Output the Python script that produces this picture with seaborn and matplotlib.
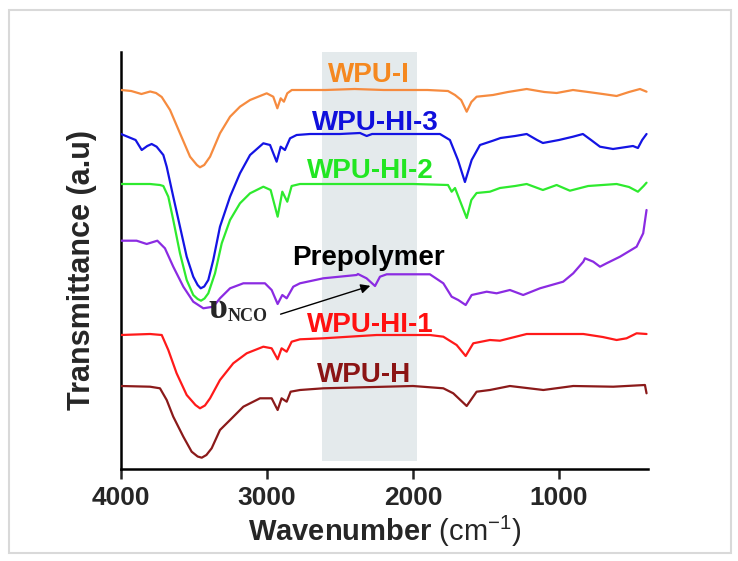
import matplotlib
matplotlib.use("Agg")
import matplotlib.pyplot as plt
import seaborn as sns
import pandas as pd
from matplotlib.patches import Rectangle

# FTIR spectra, wavenumber (cm-1) and offset transmittance (a.u.)
wpu_i_x = [4000, 3930, 3860, 3800, 3760, 3721, 3664, 3596, 3527, 3480, 3459, 3430, 3390, 3322,
           3253, 3185, 3116, 3002, 2957, 2929, 2906, 2884, 2861, 2830, 2600, 2400, 2200, 1900,
           1760, 1712, 1670, 1632, 1600, 1564, 1452, 1350, 1221, 1100, 1016, 904, 800, 700,
           605, 520, 445, 400]
wpu_i_y = [379, 378, 375, 377.5, 376, 372, 359, 335.7, 312.3, 304, 301.7, 304, 312.3, 335.7,
           352.3, 362.3, 369, 375.7, 372.3, 360.7, 370.7, 367.3, 375.7, 379, 379, 380, 379, 379,
           378, 374, 369, 357.3, 367, 372.3, 374, 377, 380, 377, 376, 379, 377, 375,
           373, 377, 380, 377.3]

wpu_hi3_x = [4000, 3900, 3858, 3820, 3790, 3756, 3710, 3687, 3642, 3596, 3550, 3505, 3475, 3454,
             3430, 3402, 3368, 3322, 3253, 3185, 3116, 3025, 2979, 2934, 2906, 2877, 2842, 2797,
             2705, 2500, 2363, 2317, 2280, 2000, 1815, 1747, 1692, 1644, 1598, 1541, 1452, 1400,
             1300, 1221, 1150, 1110, 1000, 904, 836, 780, 719, 630, 493, 459, 430, 400]
wpu_hi3_y = [335, 329, 319, 323, 325, 322.3, 314, 302.3, 272.3, 242.3, 212.3, 192.3, 184, 180.7,
             182.5, 189, 209, 242.3, 272.3, 295.7, 314, 325.7, 324, 307.3, 322.3, 319, 330.7, 334,
             335, 335, 336, 333, 335, 335, 335, 329, 309, 287, 309, 324, 328.3, 331,
             333, 335, 329, 326, 329, 332.3, 335, 329, 322.3, 320, 323, 321, 329, 335]

wpu_hi2_x = [4000, 3801, 3733, 3710, 3676, 3642, 3596, 3550, 3505, 3475, 3452, 3428, 3402, 3356,
             3310, 3253, 3185, 3116, 3025, 2975, 2927, 2895, 2861, 2831, 2774, 2400, 2000, 1760,
             1735, 1712, 1680, 1632, 1600, 1564, 1473, 1404, 1300, 1221, 1110, 1016, 925, 800,
             605, 520, 459, 420, 400]
wpu_hi2_y = [285, 285, 284, 283, 272.3, 249, 215.7, 189, 174, 170, 168.3, 170.5, 175.7, 195.7,
             225.7, 249, 265.7, 275.7, 282.3, 279, 252.3, 277.3, 267.3, 283, 285, 285, 285, 284,
             277.3, 281, 269, 251, 269, 276, 277.3, 281, 283, 285, 279, 284, 278.3, 283,
             285, 282, 277.3, 283, 286.3]

prepolymer_x = [4000, 3893, 3824, 3751, 3699, 3642, 3573, 3505, 3436, 3368, 3322, 3253, 3162,
                3014, 2968, 2927, 2895, 2865, 2820, 2774, 2614, 2386, 2377, 2318, 2260, 2226,
                2180, 1884, 1792, 1735, 1690, 1639, 1598, 1495, 1427, 1336, 1245, 1130, 971,
                902, 833, 822, 765, 719, 674, 582, 468, 423, 400]
prepolymer_y = [228.3, 228.3, 225, 228.3, 220.7, 202.3, 182.3, 167.3, 160.7, 162.3, 170.7, 180.7,
                185.7, 185.7, 179, 165, 174, 170.7, 182.3, 185.7, 190.7, 194, 195, 190.7, 183,
                192.3, 194.7, 194.7, 185.7, 172.3, 169, 164, 174, 177.3, 175.7, 179, 174, 180.7,
                187.3, 195.7, 207.3, 210.7, 207.3, 202.3, 205.7, 212.3, 222.3, 235.7, 259]

wpu_hi1_x = [4000, 3801, 3721, 3676, 3619, 3550, 3490, 3459, 3425, 3390, 3322, 3231, 3139, 3025,
             2968, 2927, 2900, 2865, 2831, 2774, 2614, 2249, 1884, 1792, 1701, 1639, 1587, 1473,
             1404, 1221, 833, 700, 605, 537, 468, 400]
wpu_hi1_y = [134, 135, 134, 119, 95.7, 74, 64, 60.7, 63.5, 70.7, 89, 105.7, 115.7, 122.3,
             120.7, 109.7, 120.7, 117.3, 127.3, 129.7, 130.7, 134, 134, 132.3, 124, 113, 125.7, 129,
             128.3, 135, 135, 132, 129, 130.7, 135.7, 135]

wpu_h_x = [4000, 3801, 3733, 3687, 3642, 3573, 3516, 3475, 3447, 3415, 3379, 3322, 3253, 3162,
           3048, 2968, 2927, 2900, 2865, 2838, 2774, 2614, 2000, 1792, 1724, 1632, 1564, 1473,
           1336, 1107, 902, 628, 411, 400]
wpu_h_y = [83, 82.3, 80.7, 69, 52.3, 32.3, 17.3, 12.5, 11.3, 14, 20.7, 39, 49, 62.3,
           70.7, 70.7, 59, 70.7, 67.3, 77.3, 79, 80.7, 83, 80.7, 75.7, 63, 77.3, 79,
           83, 79, 83, 82.3, 84, 75.7]

names = ["WPU-I", "WPU-HI-3", "WPU-HI-2", "Prepolymer", "WPU-HI-1", "WPU-H"]
colors = ["#f68b3f", "#1414e4", "#2eea2e", "#8b2be2", "#ff1a1a", "#8b1a1a"]
text_colors = ["#f5881f", "#1010dc", "#22e622", "#000000", "#ff1010", "#8b1414"]
label_x = [2301, 2260, 2295, 2308, 2295, 2336]
label_y = [387, 339, 291, 204, 137, 87]

nco_band = (2620, 1970)

sns.set_style("white")
plt.rcParams['font.family'] = ['Liberation Sans', 'DejaVu Sans']
plt.rcParams['mathtext.fontset'] = 'custom'
plt.rcParams['mathtext.rm'] = 'Liberation Sans'
plt.rcParams['mathtext.bf'] = 'Liberation Sans:bold'

fig = plt.figure(figsize=(7.38, 5.61), dpi=100)
ax = fig.add_axes([121 / 738, 1 - 469 / 561, 527 / 738, 417 / 561])

ax.axvspan(nco_band[0], nco_band[1], ymin=0.02, ymax=1.0, color="#e4eaec", lw=0, zorder=0)

series = [(wpu_i_x, wpu_i_y), (wpu_hi3_x, wpu_hi3_y), (wpu_hi2_x, wpu_hi2_y),
          (prepolymer_x, prepolymer_y), (wpu_hi1_x, wpu_hi1_y), (wpu_h_x, wpu_h_y)]
for (xs, ys), name, c in zip(series, names, colors):
    df = pd.DataFrame({"wavenumber": xs, "T": ys})
    sns.lineplot(data=df, x="wavenumber", y="T", ax=ax, color=c, lw=1.6, zorder=3)

for name, tc, lx, ly in zip(names, text_colors, label_x, label_y):
    ax.text(lx, ly, name, color=tc, fontsize=20, fontweight='bold',
            ha='center', va='baseline', zorder=4)

# NCO stretching annotation
ax.text(3400, 151, "υ", fontsize=26, fontweight='bold', family='Liberation Serif',
        ha='left', va='baseline', zorder=4)
ax.text(3270, 148, "NCO", fontsize=13, fontweight='bold', family='Liberation Serif',
        ha='left', va='baseline', zorder=4)
ax.annotate("", xy=(2274, 184), xytext=(2925, 154),
            arrowprops=dict(arrowstyle="-|>", color="black", lw=1.0, mutation_scale=14),
            zorder=4)

ax.set_xlim(4000, 390)
ax.set_ylim(0, 417)
ax.set_xticks([4000, 3000, 2000, 1000])
ax.set_yticks([])
ax.tick_params(axis='x', direction='out', length=7, width=1.8, labelsize=19, pad=5,
               bottom=True)
for lab in ax.get_xticklabels():
    lab.set_fontweight('bold')

for s in ['top', 'right']:
    ax.spines[s].set_visible(False)
for s in ['left', 'bottom']:
    ax.spines[s].set_color('black')
    ax.spines[s].set_linewidth(1.8)

ax.set_xlabel(r'Wavenumber $\mathrm{(cm^{-1})}$', fontsize=21, fontweight='bold')
ax.set_ylabel('Transmittance (a.u)', fontsize=22, fontweight='bold')
ax.xaxis.set_label_coords(0.5, -0.108)
ax.xaxis.label.set_va('top')
ax.yaxis.set_label_coords(-0.045, 0.477)

fig.patches.append(Rectangle((9 / 738, 1 - 553 / 561), 722 / 738, 543 / 561,
                             transform=fig.transFigure, fill=False,
                             edgecolor='#d9d9d9', lw=1.5))

fig.savefig("out.png", dpi=100)
